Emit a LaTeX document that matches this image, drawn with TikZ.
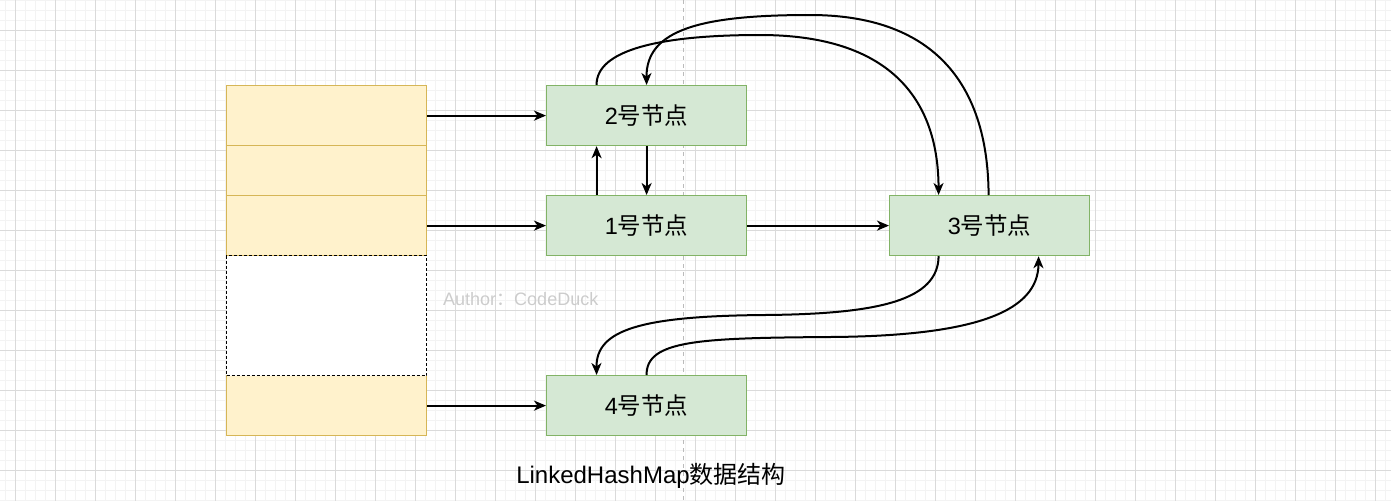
\documentclass[tikz,border=0pt]{standalone}
\usepackage{fontspec}
\setmainfont{Liberation Sans}
\newfontfamily\cjk{Noto Sans CJK SC}
\usetikzlibrary{arrows.meta}
\definecolor{yfill}{HTML}{FFF2CC}
\definecolor{ydraw}{HTML}{D6B656}
\definecolor{gfill}{HTML}{D5E8D4}
\definecolor{gdraw}{HTML}{82B366}
\definecolor{gridmaj}{HTML}{DADADA}
\definecolor{gridmin}{HTML}{F3F3F3}
\definecolor{authorc}{HTML}{CCCCCC}
\definecolor{guide}{HTML}{BBBBBB}
\tikzset{
  cellbox/.style={draw=ydraw, fill=yfill, line width=1.2pt, minimum width=200pt, inner sep=0pt, anchor=north west},
  emptycell/.style={draw=black, fill=white, line width=1pt, dash pattern=on 3pt off 2pt, minimum width=200pt, inner sep=0pt, anchor=north west},
  nodebox/.style={draw=gdraw, fill=gfill, line width=1.2pt, minimum width=200pt, minimum height=60pt, inner sep=0pt, anchor=north west, font=\fontsize{23.5}{28}\selectfont},
  arr/.style={draw=black, line width=2pt, -{Stealth[length=12pt,width=10pt,inset=3.5pt]}},
}
\begin{document}
\begin{tikzpicture}[x=1pt,y=-1pt]
\useasboundingbox (0,0) rectangle (1391,501);
\fill[white] (0,0) rectangle (1391,501);
% minor grid
\foreach \gx in {5,15,...,1385} \draw[gridmin, line width=1pt] (\gx,0) -- (\gx,501);
\foreach \gy in {0,10,...,500} \draw[gridmin, line width=1pt] (0,\gy) -- (1391,\gy);
% major grid
\foreach \gx in {15,55,...,1375} \draw[gridmaj, line width=1pt] (\gx,0) -- (\gx,501);
\foreach \gy in {30,70,...,470} \draw[gridmaj, line width=1pt] (0,\gy) -- (1391,\gy);
% guide line
\draw[guide, line width=1pt, dash pattern=on 4pt off 4pt] (683.5,0) -- (683.5,501);

% array
\node[cellbox, minimum height=60pt] (c1) at (226,85) {};
\node[cellbox, minimum height=50pt] (c2) at (226,145) {};
\node[cellbox, minimum height=60pt] (c3) at (226,195) {};
\node[cellbox, minimum height=60pt] (c5) at (226,375) {};
\node[emptycell, minimum height=120pt] (c4) at (226,255) {};

% entry nodes
\node[nodebox] (n2) at (546,85) {2{\cjk 号节点}};
\node[nodebox] (n1) at (546,195) {1{\cjk 号节点}};
\node[nodebox] (n3) at (889,195) {3{\cjk 号节点}};
\node[nodebox] (n4) at (546,375) {4{\cjk 号节点}};

% texts
\node[anchor=west, text=authorc, inner sep=0pt, font=\fontsize{18}{22}\selectfont] (author) at (443,299) {Author{\cjk ：}CodeDuck};
\node[inner sep=0pt, font=\fontsize{24}{28}\selectfont] (title) at (651,476) {LinkedHashMap{\cjk 数据结构}};

% bucket arrows
\draw[arr] (c1.east) -- (n2.west);
\draw[arr] (c3.east) -- (n1.west);
\draw[arr] (c5.east) -- (n4.west);

% 1 <-> 2
\draw[arr] ([xshift=-50pt]n1.north) -- ([xshift=-50pt]n2.south);
\draw[arr] (n2.south) -- (n1.north);

% 1 -> 3
\draw[arr] (n1.east) -- (n3.west);

% 2 -> 3 (over the top)
\coordinate (p23) at (760,35);
\draw[arr] ([xshift=-50pt]n2.north) .. controls (596,50) and (660,35) .. (p23)
  .. controls (880,35) and (938,90) .. ([xshift=-51pt]n3.north);

% 3 -> 2 (outer arc)
\coordinate (p32) at (810,15);
\draw[arr] ([xshift=-1pt]n3.north) .. controls (988,80) and (930,15) .. (p32)
  .. controls (700,15) and (646,30) .. (n2.north);

% 3 -> 4
\coordinate (p34) at (765,315);
\draw[arr] ([xshift=-51pt]n3.south) .. controls (938,300) and (880,314) .. (p34)
  .. controls (640,316) and (596,330) .. ([xshift=-50pt]n4.north);

% 4 -> 3
\coordinate (p43) at (830,337);
\draw[arr] (n4.north) .. controls (646,340) and (700,338) .. (p43)
  .. controls (980,336) and (1038,310) .. ([xshift=49pt]n3.south);
\end{tikzpicture}
\end{document}
